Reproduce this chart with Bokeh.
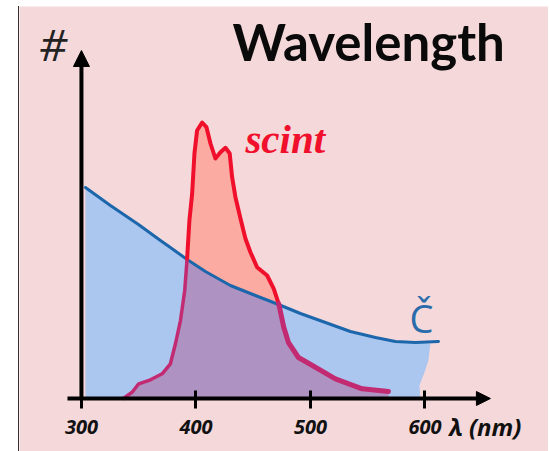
from bokeh.embed import file_html
from bokeh.models import Arrow, FixedTicker, Label, NormalHead, Range1d
from bokeh.plotting import figure
from bokeh.resources import INLINE
import numpy as np

tick_values = [300, 400, 500, 600]
title_text = "Wavelength"

blue_nm = [303.5, 325.3, 349.8, 369, 377.7, 392.3, 408.3, 430.1, 452, 472.1, 491.3, 513.1,
           534.9, 556.8, 574.2, 591.7, 611.8]
blue_count = [211, 193, 174, 158, 151, 139, 127, 113, 103, 94, 85, 76, 67, 61, 57, 56, 57]
blue_edge_nm = [604.8, 603, 599.6, 595.2, 596]
blue_edge_count = [55, 38, 26, 13, 0]

red_nm = [336.7, 344.3, 350, 360.3, 370.5, 377.7, 382.1, 386.5, 390.2, 392.3, 394.3, 396.7,
          398.7, 401, 405.4, 409.2, 412.7, 417, 421.4, 425.8, 429.5, 431.6, 434.5, 438.9,
          443.2, 447.6, 453.4, 462.2, 468, 472.3, 476.7, 480.8, 489.5, 501.7, 521.8,
          545.2, 568.1]
red_count = [0, 6.3, 14.7, 18.7, 24.7, 34.7, 54.7, 78, 108, 140, 178, 205,
             245, 268, 276, 271.3, 255, 240, 246.3, 250.7, 245, 221.3, 201.3, 180,
             160, 146.3, 131.3, 123, 109.7, 94.7, 71.3, 56, 41, 33, 19.7,
             9.7, 7]

PINK = "#f5d8da"
BLUE_FILL = "#abc6ef"
RED_FILL = "#fbaba2"
MIX_FILL = "#ae93c2"
BLUE_LINE = "#1c66ab"
RED_LINE = "#f0102c"
MIX_LINE = "#c22a72"

p = figure(width=530, height=445, output_backend="svg", toolbar_location=None, title=None,
           x_range=Range1d(245.9, 708.8), y_range=Range1d(-53, 392),
           min_border_left=0, min_border_right=0, min_border_top=0, min_border_bottom=0,
           background_fill_color=PINK, border_fill_color=PINK, outline_line_color=None)
p.margin = (6, 0, 0, 18)
p.styles = {"border-left": "1px solid #3a2f2f"}
p.grid.visible = False
p.yaxis.visible = False

ax = p.xaxis[0]
ax.fixed_location = 0
ax.ticker = FixedTicker(ticks=tick_values)
ax.axis_line_color = None
ax.major_tick_line_color = "black"
ax.major_tick_line_width = 3
ax.major_tick_in = 8
ax.major_tick_out = 10
ax.minor_tick_line_color = None
ax.major_label_standoff = 11
ax.major_label_text_font = "Open Sans"
ax.major_label_text_font_style = "bold italic"
ax.major_label_text_font_size = "20px"
ax.major_label_text_color = "#111111"

# Blue area
p.patch(blue_nm[:-1] + blue_edge_nm + [blue_nm[0]],
        blue_count[:-1] + blue_edge_count + [0],
        fill_color=BLUE_FILL, line_color=None)

# Red area, and its overlap with the blue one
p.patch(red_nm, red_count, fill_color=RED_FILL, line_color=None)
p.varea(red_nm, 0, np.minimum(red_count, np.interp(red_nm, blue_nm, blue_count)),
        fill_color=MIX_FILL)
p.line(blue_nm, blue_count, line_color=BLUE_LINE, line_width=3, line_cap="round", line_join="round")

# Red line changes colour where it leaves the blue area
i, j = red_nm.index(392.3), red_nm.index(472.3)
for a, b, c, w in [(0, i + 1, MIX_LINE, 3.5), (i, j + 1, RED_LINE, 4), (j, len(red_nm), MIX_LINE, 5)]:
    p.line(red_nm[a:b], red_count[a:b], line_color=c, line_width=w, line_cap="round", line_join="round")

# Texts
def label(x, y, text, color, size, font, style, align="left", baseline="alphabetic"):
    p.add_layout(Label(x=x, y=y, text=text, text_color=color, text_font_size=size, text_font=font,
                       text_font_style=style, text_align=align, text_baseline=baseline))

label(431.9, 357, title_text, "#0a0a0a", "51px", "Lato", "bold")
label(443.2, 260, "scint", RED_LINE, "41px", "Liberation Serif", "bold italic")
label(263, 355, "#", "#222222", "44px", "Open Sans", "italic")
label(597, 81, "Č", "#2a6cab", "38px", "Open Sans", "normal", "center")
label(621, -28, "λ (nm)", "#111111", "24px", "Open Sans", "bold italic", baseline="middle")

# Axis arrows
p.add_layout(Arrow(x_start=287.8, y_start=0, x_end=657.2, y_end=0, line_color="black", line_width=4,
                   end=NormalHead(size=14, fill_color="black", line_color="black")))
p.add_layout(Arrow(x_start=300, y_start=0, x_end=300, y_end=348, line_color="black", line_width=4,
                   end=NormalHead(size=16, fill_color="black", line_color="black")))

open("out.html", "w").write(file_html(p, INLINE))
